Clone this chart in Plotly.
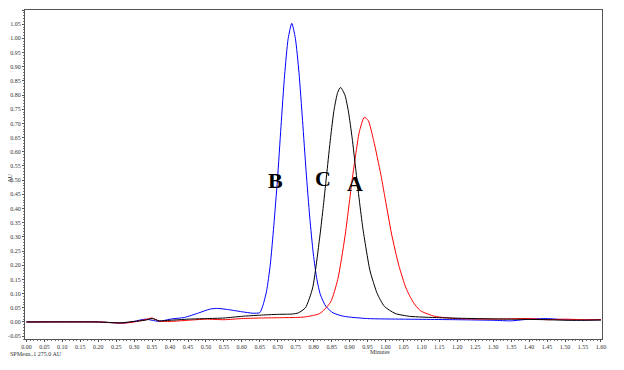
import plotly.graph_objects as go

# ---- data ----
time_B = [0.00, 0.20, 0.27, 0.30, 0.33, 0.35, 0.37, 0.40, 0.44, 0.48, 0.51, 0.53, 0.56, 0.60,
          0.63, 0.65, 0.659, 0.669, 0.679, 0.689, 0.699, 0.709, 0.719, 0.729, 0.739,
          0.749, 0.759, 0.769, 0.779, 0.789, 0.799, 0.809, 0.819, 0.834, 0.854, 0.884, 0.95,
          1.05, 1.20, 1.30, 1.35, 1.40, 1.45, 1.50, 1.55, 1.60]
abs_B = [0.000, 0.000, -0.004, 0.002, 0.010, 0.006, 0.002, 0.010, 0.016, 0.032, 0.045, 0.048, 0.044, 0.036,
         0.031, 0.033, 0.060, 0.110, 0.200, 0.340, 0.500, 0.690, 0.870, 1.000, 1.053,
         1.000, 0.880, 0.710, 0.530, 0.370, 0.240, 0.150, 0.095, 0.055, 0.032, 0.020, 0.012,
         0.010, 0.008, 0.006, 0.004, 0.010, 0.012, 0.008, 0.007, 0.008]

time_C = [0.00, 0.20, 0.26, 0.30, 0.33, 0.35, 0.37, 0.40, 0.45, 0.50, 0.55, 0.60, 0.65, 0.70,
          0.74, 0.757, 0.777, 0.797, 0.817, 0.827, 0.837, 0.847, 0.857, 0.867, 0.875,
          0.887, 0.897, 0.907, 0.917, 0.927, 0.937, 0.947, 0.957, 0.977, 0.997, 1.027, 1.067, 1.15,
          1.25, 1.35, 1.45, 1.50, 1.55, 1.60]
abs_C = [0.000, 0.000, -0.003, 0.002, 0.006, 0.012, 0.004, 0.006, 0.010, 0.012, 0.014, 0.020, 0.024, 0.027,
         0.028, 0.032, 0.050, 0.120, 0.300, 0.410, 0.530, 0.650, 0.750, 0.810, 0.827,
         0.800, 0.740, 0.650, 0.540, 0.430, 0.330, 0.250, 0.180, 0.100, 0.055, 0.030, 0.020, 0.015,
         0.012, 0.010, 0.008, 0.006, 0.006, 0.007]

time_A = [0.00, 0.20, 0.27, 0.30, 0.33, 0.35, 0.37, 0.40, 0.45, 0.50, 0.55, 0.60, 0.65, 0.70,
          0.75, 0.777, 0.817, 0.847, 0.867, 0.887, 0.907, 0.917, 0.927, 0.941, 0.952,
          0.967, 0.987, 0.997, 1.017, 1.037, 1.057, 1.077, 1.097, 1.137, 1.20, 1.30, 1.40, 1.45,
          1.50, 1.55, 1.60]
abs_A = [0.000, 0.000, -0.004, 0.000, 0.008, 0.014, 0.003, 0.002, 0.006, 0.010, 0.008, 0.012, 0.014, 0.015,
         0.016, 0.018, 0.030, 0.070, 0.150, 0.300, 0.500, 0.590, 0.670, 0.722, 0.710,
         0.640, 0.520, 0.450, 0.310, 0.200, 0.120, 0.070, 0.040, 0.020, 0.012, 0.010, 0.012, 0.008,
         0.010, 0.008, 0.008]

series = [
    ("B", time_B, abs_B, "#0000FF"),
    ("A", time_A, abs_A, "#FF0000"),
    ("C", time_C, abs_C, "#000000"),
]

fig = go.Figure()
for name, t, a, col in series:
    fig.add_trace(go.Scatter(x=t, y=a, mode="lines", name=name,
                             line=dict(color=col, width=1, shape="spline", smoothing=0.6),
                             showlegend=False))

tickfont = dict(family="Liberation Serif", size=6, color="#333333")

# page has an 8px body margin, so the figure is sized to fit inside the window
fig.update_layout(
    width=616, height=362,
    margin=dict(l=17, r=22, t=2, b=31, autoexpand=False),
    paper_bgcolor="white", plot_bgcolor="white",
    xaxis=dict(range=[-0.004, 1.603], dtick=0.05, tick0=0, tickformat=".2f", automargin=False,
               showgrid=False, zeroline=False, showline=True, linecolor="#555555", linewidth=1,
               mirror=True, ticks="outside", ticklen=2, tickcolor="#555555",
               minor=dict(ticks="outside", ticklen=1, nticks=5, tickcolor="#777777"),
               tickfont=tickfont),
    yaxis=dict(range=[-0.06, 1.10], dtick=0.05, tick0=0, tickformat=".2f", automargin=False,
               showgrid=False, zeroline=False, showline=True, linecolor="#555555", linewidth=1,
               mirror=True, ticks="outside", ticklen=2, tickcolor="#555555",
               minor=dict(ticks="outside", ticklen=1, nticks=5, tickcolor="#777777"),
               tickfont=tickfont),
    font=dict(family="Liberation Serif"),
)

# peak letters
for letter, xpos, ypos in [("B", 0.694, 0.50), ("C", 0.827, 0.507), ("A", 0.916, 0.49)]:
    fig.add_annotation(x=xpos, y=ypos, text="<b>%s</b>" % letter, showarrow=False,
                       font=dict(family="Liberation Serif", size=22, color="black"))

fig.add_annotation(xref="paper", yref="paper", x=0.615, y=-0.055, text="Minutes", showarrow=False,
                   font=dict(family="Liberation Serif", size=6, color="#333333"))
fig.add_annotation(xref="paper", yref="paper", x=-0.026, y=0.49, xanchor="center",
                   text="AU", textangle=-90,
                   showarrow=False, font=dict(family="Liberation Serif", size=6, color="#333333"))
fig.add_annotation(xref="paper", yref="paper", x=-0.029, y=-0.06, xanchor="left",
                   text="SPMean..1 275.0 AU", showarrow=False,
                   font=dict(family="Liberation Serif", size=6, color="#333333"))

fig.write_html("out.html")
